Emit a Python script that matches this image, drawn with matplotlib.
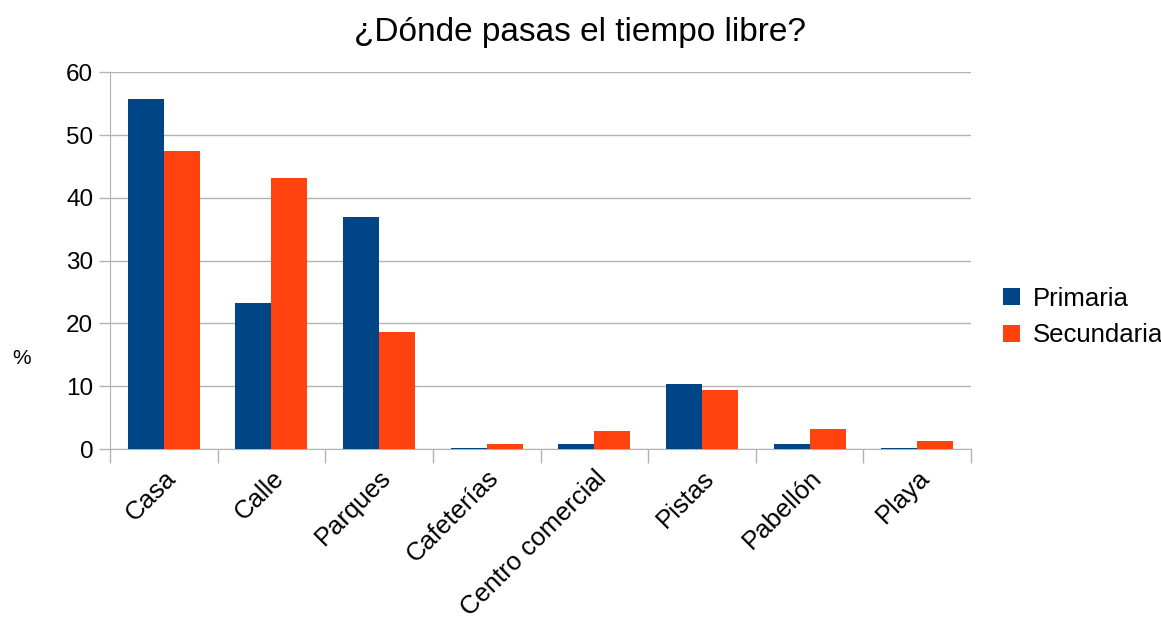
import matplotlib
matplotlib.use("Agg")
import matplotlib.pyplot as plt
import numpy as np

categories = ["Casa", "Calle", "Parques", "Cafeterías", "Centro comercial", "Pistas", "Pabellón", "Playa"]
primaria = [55.8, 23.3, 36.9, 0.1, 0.85, 10.4, 0.85, 0.1]
secundaria = [47.5, 43.1, 18.7, 0.85, 2.9, 9.4, 3.2, 1.3]
series_names = ["Primaria", "Secundaria"]
yticks = [0, 10, 20, 30, 40, 50, 60]

plt.rcParams['font.family'] = ['Liberation Sans', 'DejaVu Sans']

fig = plt.figure(figsize=(11.61, 6.17), dpi=100)
ax = fig.add_axes([110/1161, 1-449/617, (971-110)/1161, (449-72.3)/617])

x = np.arange(len(categories))
w = 0.335
ax.bar(x - w/2, primaria, w, color="#004586", label=series_names[0], zorder=3)
ax.bar(x + w/2, secundaria, w, color="#ff420e", label=series_names[1], zorder=3)

ax.set_xlim(-0.5, len(categories) - 0.5)
ax.set_ylim(0, 60)
ax.set_yticks(yticks)
ax.yaxis.grid(True, color="#b3b3b3", linewidth=1, zorder=0)
ax.set_axisbelow(True)

ax.set_xticks(x)
ax.set_xticklabels(categories, rotation=45, ha="right", va="top", rotation_mode="anchor", fontsize=18.5)
ax.tick_params(axis="x", which="major", length=0, pad=12)
ax.set_xticks(np.arange(-0.5, len(categories), 1), minor=True)
ax.tick_params(axis="x", which="minor", length=10, color="#b3b3b3", width=1)
ax.tick_params(axis="y", length=8, color="#b3b3b3", width=1, labelsize=17.5, pad=4)

for s in ["left", "bottom", "right", "top"]:
    ax.spines[s].set_color("#b3b3b3")
ax.spines["top"].set_visible(False)
ax.spines["right"].set_visible(False)

fig.text(22/1161, 1-358/617, "%", fontsize=15, ha="center", va="center")
fig.text(580/1161, 1-33/617, "¿Dónde pasas el tiempo libre?", fontsize=24, ha="center", va="center")

fig.legend(loc="center left", bbox_to_anchor=(980/1161, 1-317/617), frameon=False,
           fontsize=18.5, handlelength=0.65, handleheight=0.65, handletextpad=0.5, labelspacing=0.5)

fig.savefig("out.png", dpi=100)
